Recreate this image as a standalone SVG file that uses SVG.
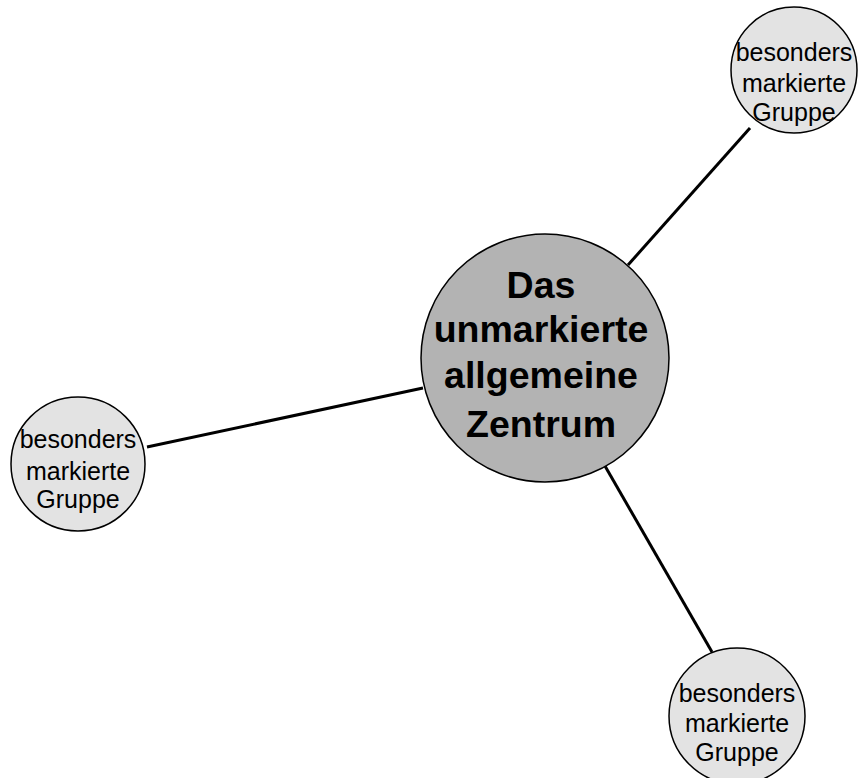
<svg xmlns="http://www.w3.org/2000/svg" width="858" height="778" viewBox="0 0 858 778">
<style>
.big{fill:#b3b3b3;stroke:#000;stroke-width:1.5}
.small{fill:#e3e3e3;stroke:#000;stroke-width:1.5}
.edge{stroke:#000;stroke-width:3;fill:none}
.t1{font-family:"Liberation Sans",Arial,sans-serif;font-weight:bold;font-size:37.5px;text-anchor:middle;fill:#000}
.t2{font-family:"Liberation Sans",Arial,sans-serif;font-size:25px;text-anchor:middle;fill:#000}
</style>
<rect width="858" height="778" fill="#fff"/>
<g id="connectors">
<line class="edge" x1="628" y1="265" x2="750" y2="128"/>
<line class="edge" x1="423" y1="388" x2="147" y2="447"/>
<line class="edge" x1="605" y1="466" x2="712" y2="652"/>
</g>
<g id="center">
<circle class="big" cx="545" cy="358" r="124"/>
<text class="t1" x="541" y="298">Das</text>
<text class="t1" x="541" y="342">unmarkierte</text>
<text class="t1" x="541" y="388">allgemeine</text>
<text class="t1" x="541" y="437">Zentrum</text>
</g>
<g id="group-top-right">
<circle class="small" cx="794" cy="70" r="63"/>
<text class="t2" x="794" y="61">besonders</text>
<text class="t2" x="794" y="92">markierte</text>
<text class="t2" x="794" y="121">Gruppe</text>
</g>
<g id="group-left">
<circle class="small" cx="78" cy="464" r="67"/>
<text class="t2" x="78" y="448">besonders</text>
<text class="t2" x="78" y="480">markierte</text>
<text class="t2" x="78" y="508">Gruppe</text>
</g>
<g id="group-bottom">
<circle class="small" cx="737" cy="716" r="68"/>
<text class="t2" x="737" y="702">besonders</text>
<text class="t2" x="737" y="732">markierte</text>
<text class="t2" x="737" y="761">Gruppe</text>
</g>
</svg>
